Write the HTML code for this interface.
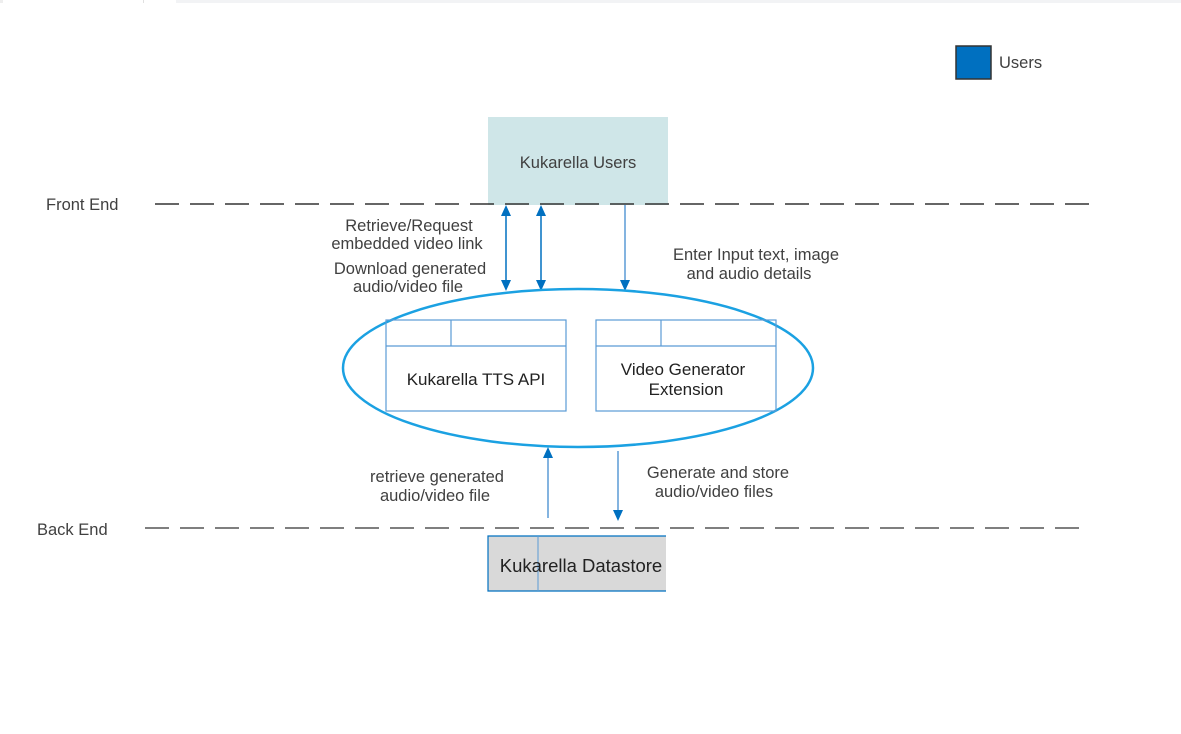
<!DOCTYPE html>
<html><head><style>
html,body{margin:0;padding:0;background:#fff;}
svg text{font-family:"Liberation Sans",Arial,sans-serif;font-size:16.5px;fill:#404040;}
</style></head><body>
<svg width="1181" height="729" xmlns="http://www.w3.org/2000/svg">
<rect x="0" y="0" width="3" height="3" fill="#eee"/>
<rect x="176" y="0" width="1005" height="3" fill="#f2f3f5"/>
<rect x="143" y="0" width="1" height="3" fill="#e0e0e0"/>
<rect x="956" y="46" width="35" height="33" fill="#0070c0" stroke="#333" stroke-width="1.5"/>
<text x="999" y="68">Users</text>
<rect x="488" y="117" width="180" height="88" fill="#cfe6e8"/>
<text x="578" y="168" text-anchor="middle">Kukarella Users</text>
<text x="46" y="210">Front End</text>
<line x1="155" y1="204" x2="1090" y2="204" stroke="#333" stroke-width="1.5" stroke-dasharray="24,11"/>
<text x="37" y="535">Back End</text>
<line x1="145" y1="528" x2="1086" y2="528" stroke="#555" stroke-width="1.5" stroke-dasharray="24,11"/>
<g stroke="#0070c0" stroke-width="1.5" fill="#0070c0">
<line x1="506" y1="216" x2="506" y2="280"/>
<path d="M501,216 L511,216 L506,205 Z" stroke="none"/>
<path d="M501,280 L511,280 L506,291 Z" stroke="none"/>
<line x1="541" y1="216" x2="541" y2="280"/>
<path d="M536,216 L546,216 L541,205 Z" stroke="none"/>
<path d="M536,280 L546,280 L541,291 Z" stroke="none"/>
<line x1="625" y1="205" x2="625" y2="280" stroke="#5b9bd5"/>
<path d="M620,280 L630,280 L625,291 Z" stroke="none"/>
<line x1="548" y1="518" x2="548" y2="458" stroke="#5b9bd5"/>
<path d="M543,458 L553,458 L548,447 Z" stroke="none"/>
<line x1="618" y1="451" x2="618" y2="510" stroke="#5b9bd5"/>
<path d="M613,510 L623,510 L618,521 Z" stroke="none"/>
</g>
<text x="409" y="231" text-anchor="middle">Retrieve/Request</text>
<text x="407" y="249" text-anchor="middle">embedded video link</text>
<text x="410" y="274" text-anchor="middle">Download generated</text>
<text x="408" y="292" text-anchor="middle">audio/video file</text>
<text x="756" y="260" text-anchor="middle">Enter Input text, image</text>
<text x="749" y="279" text-anchor="middle">and audio details</text>
<text x="437" y="482" text-anchor="middle">retrieve generated</text>
<text x="435" y="501" text-anchor="middle">audio/video file</text>
<text x="718" y="478" text-anchor="middle">Generate and store</text>
<text x="714" y="497" text-anchor="middle">audio/video files</text>
<ellipse cx="578" cy="368" rx="235" ry="79" fill="none" stroke="#1ba1e2" stroke-width="2.5"/>
<g fill="none" stroke="#5b9bd5" stroke-width="1.2">
<rect x="386" y="320" width="180" height="91"/>
<line x1="386" y1="346" x2="566" y2="346"/>
<line x1="451" y1="320" x2="451" y2="346"/>
<rect x="596" y="320" width="180" height="91"/>
<line x1="596" y1="346" x2="776" y2="346"/>
<line x1="661" y1="320" x2="661" y2="346"/>
</g>
<text x="476" y="385" text-anchor="middle" style="font-size:17px;fill:#222">Kukarella TTS API</text>
<text x="683" y="375" text-anchor="middle" style="font-size:17px;fill:#222">Video Generator</text>
<text x="686" y="395" text-anchor="middle" style="font-size:17px;fill:#222">Extension</text>
<rect x="488" y="536" width="178" height="55" fill="#d9d9d9"/>
<path d="M666,536 L488,536 L488,591 L666,591" fill="none" stroke="#0070c0" stroke-width="1.2"/>
<line x1="538" y1="536" x2="538" y2="591" stroke="#5b9bd5" stroke-width="1"/>
<text x="581" y="572" text-anchor="middle" style="font-size:18.5px;fill:#222">Kukarella Datastore</text>
</svg>
</body></html>
